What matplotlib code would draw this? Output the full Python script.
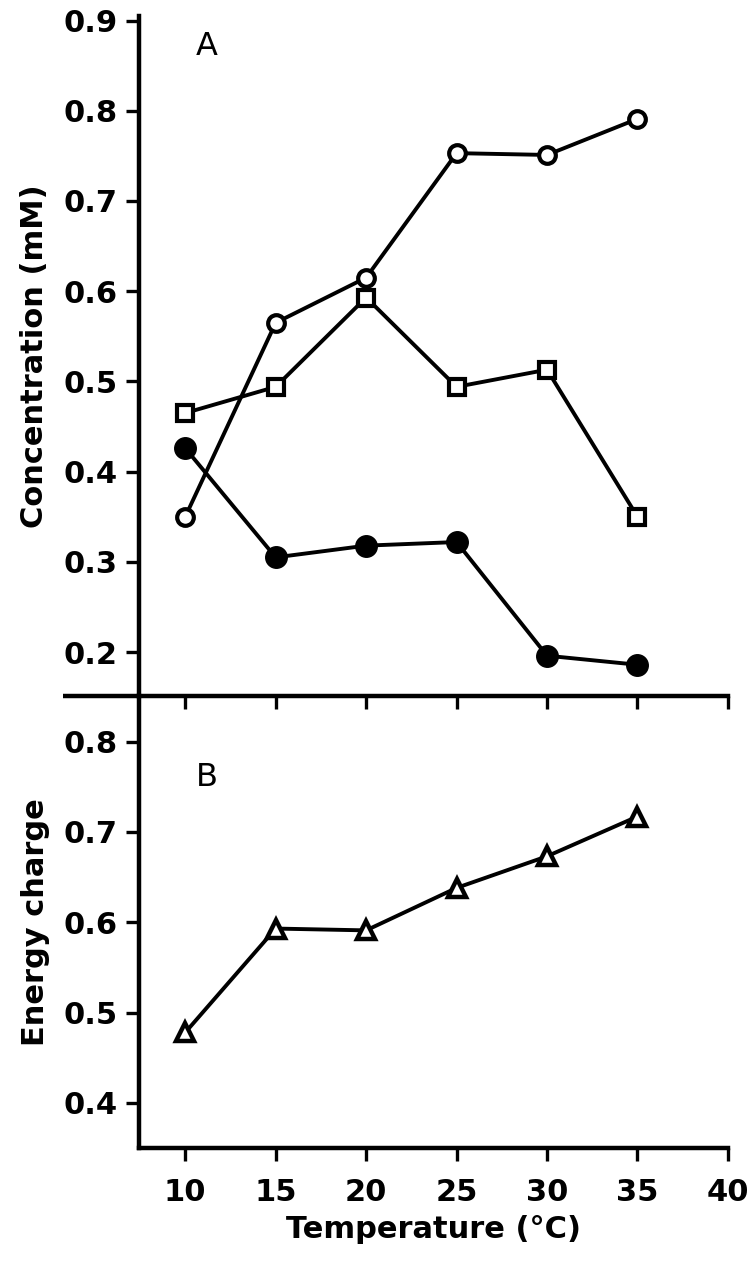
import matplotlib
matplotlib.use("Agg")
import matplotlib.pyplot as plt

# values
temps = [10, 15, 20, 25, 30, 35]
open_circles = [0.35, 0.565, 0.615, 0.753, 0.751, 0.791]
open_squares = [0.465, 0.494, 0.593, 0.494, 0.513, 0.35]
filled_circles = [0.426, 0.305, 0.318, 0.322, 0.196, 0.186]
energy_charge = [0.478, 0.593, 0.591, 0.638, 0.673, 0.717]

x_ticks = [10, 15, 20, 25, 30, 35, 40]
conc_ticks = [0.2, 0.3, 0.4, 0.5, 0.6, 0.7, 0.8, 0.9]
ec_ticks = [0.4, 0.5, 0.6, 0.7, 0.8]

LW = 2.8
SPINE = 3.2


def style_axes(ax, show_xlabels):
    ax.patch.set_visible(False)
    for side in ("top", "right"):
        ax.spines[side].set_visible(False)
    for side in ("left", "bottom"):
        ax.spines[side].set_linewidth(SPINE)
    ax.tick_params(axis="both", direction="out", length=9.5, width=2.4,
                   labelsize=22)
    ax.tick_params(axis="y", pad=6)
    ax.tick_params(axis="x", pad=12, labelbottom=show_xlabels)
    for lab in ax.get_xticklabels() + ax.get_yticklabels():
        lab.set_fontweight("bold")


def main():
    fig = plt.figure(figsize=(7.52, 12.8), dpi=100)
    left, width = 0.185, 0.783

    # panel A
    ax_a = fig.add_axes([left, 0.456, width, 0.5315])
    ax_a.plot(temps, filled_circles, "-o", color="black", lw=LW,
              ms=15.5, mfc="black", mec="black", mew=1)
    ax_a.plot(temps, open_squares, "-s", color="black", lw=LW,
              ms=11, mfc="white", mec="black", mew=3)
    ax_a.plot(temps, open_circles, "-o", color="black", lw=LW,
              ms=12, mfc="white", mec="black", mew=3)
    ax_a.set_xlim(7.45, 40)
    ax_a.set_ylim(0.151, 0.905)
    ax_a.set_xticks(x_ticks)
    ax_a.set_yticks(conc_ticks)
    ax_a.set_yticklabels([f"{v:.1f}" for v in conc_ticks])
    style_axes(ax_a, False)
    ax_a.set_ylabel("Concentration (mM)", fontsize=22, fontweight="bold",
                    labelpad=10)
    ax_a.text(0.115, 0.955, "A", transform=ax_a.transAxes, fontsize=23,
              ha="center", va="center")
    # separator line reaching past the y axis
    ax_a.plot([-0.13, 0], [0, 0], transform=ax_a.transAxes, color="black",
              lw=SPINE, clip_on=False, solid_capstyle="butt")

    # panel B
    ax_b = fig.add_axes([left, 0.103, width, 0.353])
    ax_b.plot(temps, energy_charge, "-^", color="black", lw=LW,
              ms=13, mfc="white", mec="black", mew=3.2)
    ax_b.set_xlim(7.45, 40)
    ax_b.set_ylim(0.35, 0.85)
    ax_b.set_xticks(x_ticks)
    ax_b.set_yticks(ec_ticks)
    ax_b.set_yticklabels([f"{v:.1f}" for v in ec_ticks])
    style_axes(ax_b, True)
    ax_b.set_ylabel("Energy charge", fontsize=22, fontweight="bold",
                    labelpad=10)
    ax_b.set_xlabel("Temperature (°C)", fontsize=22, fontweight="bold",
                    labelpad=6)
    ax_b.text(0.115, 0.82, "B", transform=ax_b.transAxes, fontsize=23,
              ha="center", va="center")

    fig.savefig("out.png", dpi=100)


if __name__ == "__main__":
    main()
